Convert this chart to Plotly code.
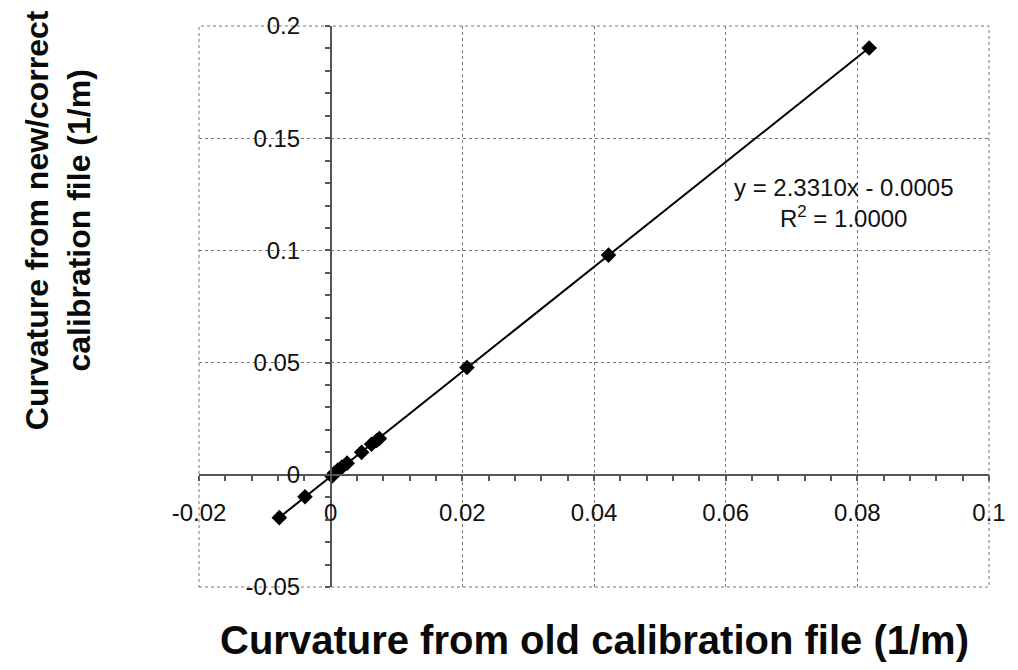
import numpy as np
import plotly.graph_objects as go

# Data
old_curvature = [-0.0078, -0.0039, 0.0002, 0.0006, 0.0011, 0.0017, 0.0025,
                 0.0047, 0.0062, 0.0070, 0.0074, 0.0207, 0.0422, 0.0818]
new_curvature = [-0.0191, -0.0098, -0.0006, 0.0008, 0.0021, 0.0034, 0.0052,
                 0.0100, 0.0136, 0.0153, 0.0162, 0.0478, 0.0979, 0.1902]
x_ticks = [-0.02, 0, 0.02, 0.04, 0.06, 0.08, 0.1]
x_tick_labels = ["-0.02", "0", "0.02", "0.04", "0.06", "0.08", "0.1"]
y_ticks = [-0.05, 0, 0.05, 0.1, 0.15, 0.2]
y_tick_labels = ["-0.05", "0", "0.05", "0.1", "0.15", "0.2"]
equation_text = "y = 2.3310x - 0.0005<br>R<sup>2</sup> = 1.0000"
x_title = "Curvature from old calibration file (1/m)"
y_title = "Curvature from new/correct<br>calibration file (1/m)"

# Linear trendline
slope, intercept = np.polyfit(old_curvature, new_curvature, 1)
tx = np.array([min(old_curvature), max(old_curvature)])
ty = slope * tx + intercept

FONT = "Liberation Sans, Arial, sans-serif"

fig = go.Figure()
fig.add_trace(go.Scatter(x=tx, y=ty, mode="lines",
                         line=dict(color="black", width=2), showlegend=False,
                         hoverinfo="skip"))
fig.add_trace(go.Scatter(x=old_curvature, y=new_curvature, mode="markers",
                         marker=dict(symbol="diamond", size=12, color="black"),
                         showlegend=False))

grid_color = "#777777"
axis_color = "#555555"

fig.update_layout(
    width=1018, height=670,
    margin=dict(l=199, r=22, t=20, b=83),
    paper_bgcolor="white", plot_bgcolor="white",
    font=dict(family=FONT, color="#111111", size=24),
    xaxis=dict(
        range=[-0.02, 0.1], anchor="free", position=0.2,
        tickvals=x_ticks, ticktext=x_tick_labels,
        showgrid=True, gridcolor=grid_color, griddash="3px,3px", gridwidth=1,
        zeroline=False, showline=True, linecolor=axis_color, linewidth=1.5,
        ticks="outside", ticklen=5, tickcolor=axis_color, tickwidth=1.5,
        minor=dict(dtick=0.004, tick0=0, ticks="outside", ticklen=5,
                   tickcolor=axis_color, tickwidth=1.5, showgrid=False),
        ticklabelstandoff=12,
        tickfont=dict(size=24, family=FONT, color="#111111"),
    ),
    yaxis=dict(
        range=[-0.05, 0.2], anchor="free", position=1/6,
        tickvals=y_ticks, ticktext=y_tick_labels,
        showgrid=True, gridcolor=grid_color, griddash="3px,3px", gridwidth=1,
        zeroline=False, showline=True, linecolor=axis_color, linewidth=1.5,
        ticks="outside", ticklen=5, tickcolor=axis_color, tickwidth=1.5,
        minor=dict(dtick=0.01, tick0=0, ticks="outside", ticklen=5,
                   tickcolor=axis_color, tickwidth=1.5, showgrid=False),
        ticklabelstandoff=20,
        tickfont=dict(size=24, family=FONT, color="#111111"),
    ),
)

# Dashed plot-area border
fig.add_shape(type="rect", xref="paper", yref="paper", x0=0, y0=0, x1=1, y1=1,
              line=dict(color=grid_color, width=1, dash="3px,3px"), layer="below")

fig.add_annotation(x=0.0779, y=0.121, xref="x", yref="y", text=equation_text,
                   showarrow=False, align="center",
                   font=dict(size=24, family=FONT, color="#111111"))

fig.add_annotation(x=0.5, y=-(641 - 587) / 567, xref="paper", yref="paper",
                   text="<b>" + x_title + "</b>", showarrow=False,
                   xanchor="center", yanchor="middle",
                   font=dict(size=40, family=FONT, color="#0a0a0a"))

fig.add_annotation(x=(57 - 199) / 797, y=(587 - 216) / 567, xref="paper", yref="paper",
                   text="<b>" + y_title + "</b>", showarrow=False, textangle=-90,
                   xanchor="center", yanchor="middle", align="center",
                   font=dict(size=32, family=FONT, color="#0a0a0a"))

fig.write_html("out.html")
